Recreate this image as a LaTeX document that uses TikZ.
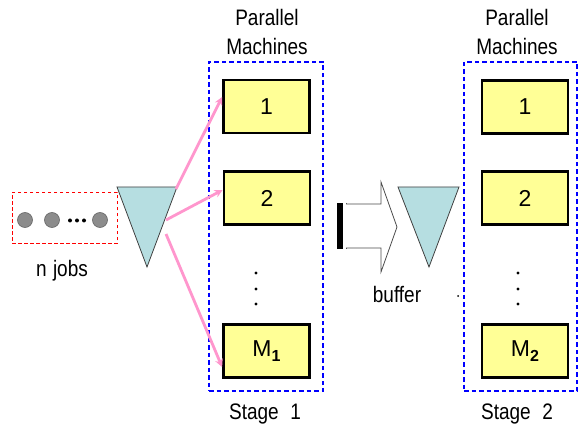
\documentclass[tikz,border=0pt]{standalone}
\usepackage{fontspec}
\setmainfont{Liberation Sans}
\usetikzlibrary{arrows.meta,shadows}
\definecolor{mach}{RGB}{255,255,150}
\definecolor{tri}{RGB}{182,222,225}
\definecolor{pinkarr}{RGB}{255,150,205}
\definecolor{stageblue}{RGB}{0,0,255}
\definecolor{jobgray}{RGB}{140,140,140}
\begin{document}
\begin{tikzpicture}[x=1pt,y=-1pt,
  machine/.style={draw=black,line width=2.8pt,fill=mach,minimum width=86pt,minimum height=53pt,inner sep=0pt,
     font=\fontsize{23}{24}\selectfont,
     drop shadow={shadow xshift=1.2pt,shadow yshift=-1.2pt,fill=gray!70,opacity=1}},
  stagebox/.style={draw=stageblue,line width=1.3pt,dash pattern=on 4.5pt off 3pt},
  txt/.style={font=\fontsize{19}{25}\selectfont,inner sep=0pt,align=center,yscale=1.18,transform shape},
  feed/.style={draw=pinkarr,line width=2.8pt,-{Stealth[length=8pt,width=8pt]}},
  job/.style={circle,draw=black!60,line width=0.6pt,fill=jobgray,minimum size=15pt,inner sep=0pt},
  funnel/.style={draw=black!75,line width=0.8pt,fill=tri}
]
\useasboundingbox (0,0) rectangle (579,433);
% jobs
\node[draw=red,line width=1pt,dash pattern=on 3.5pt off 2.5pt,minimum width=105pt,minimum height=51pt] (jobs) at (64.5,218) {};
\node[job] (j1) at (25,220) {};
\node[job] (j2) at (52,220) {};
\node[job] (j3) at (100,220) {};
\foreach \xx in {70,77,84} \fill (\xx,220.5) circle (2pt);
\node[txt] (njobs) at (62,271) {n\,\,jobs};
% funnel 1
\coordinate (f1a) at (117,187);
\coordinate (f1b) at (177,187);
\coordinate (f1c) at (147,267);
\draw[funnel] (f1a) -- (f1b) -- (f1c) -- cycle;
% stage 1
\node[stagebox,minimum width=114pt,minimum height=329pt,inner sep=0pt] (st1) at (266,226.5) {};
\node[txt] (pm1) at (267,32) {Parallel\\Machines};
\node[machine] (m11) at (266.5,106.5) {1};
\node[machine] (m12) at (267,198) {2};
\node[machine] (m1m) at (266.5,351) {M\raisebox{-5pt}{\fontsize{16}{16}\selectfont\bfseries 1}};
\node[txt] (s1) at (265,414) {Stage\,\, 1};
\foreach \yy in {273,289,304} \fill (256,\yy) circle (1.6pt);
% arrows
\coordinate (a1) at (176,189);
\coordinate (a2) at (166,220);
\coordinate (a3) at (166,234);
\draw[feed] (a1) -- ([yshift=9.5pt]m11.west);
\draw[feed] (a2) -- ([yshift=8pt]m12.west);
\draw[feed] (a3) -- ([yshift=-16pt]m1m.west);
% big hollow arrow
\fill[black] (337,203) rectangle (343,249);
\draw[black!70,line width=0.7pt] (346,203) -- (346,249);
\draw[black!70,line width=0.8pt,fill=white] (346,204) -- (381,204) -- (381,182) -- (397,227) -- (381,272) -- (381,248) -- (346,248);
% funnel 2
\coordinate (f2a) at (398,187);
\coordinate (f2b) at (459,187);
\coordinate (f2c) at (429,267);
\draw[funnel] (f2a) -- (f2b) -- (f2c) -- cycle;
\node[txt] (buf) at (397,294) {buffer};
\fill (458,296) circle (1pt);
% stage 2
\node[stagebox,minimum width=113pt,minimum height=329pt,inner sep=0pt] (st2) at (520.5,226.5) {};
\node[txt] (pm2) at (517,32) {Parallel\\Machines};
\node[machine] (m21) at (525,107) {1};
\node[machine] (m22) at (525,198) {2};
\node[machine] (m2m) at (525,351) {M\raisebox{-5pt}{\fontsize{16}{16}\selectfont\bfseries 2}};
\node[txt] (s2) at (517,414) {Stage\,\, 2};
\foreach \yy in {273,289,304} \fill (518,\yy) circle (1.6pt);
\end{tikzpicture}
\end{document}
